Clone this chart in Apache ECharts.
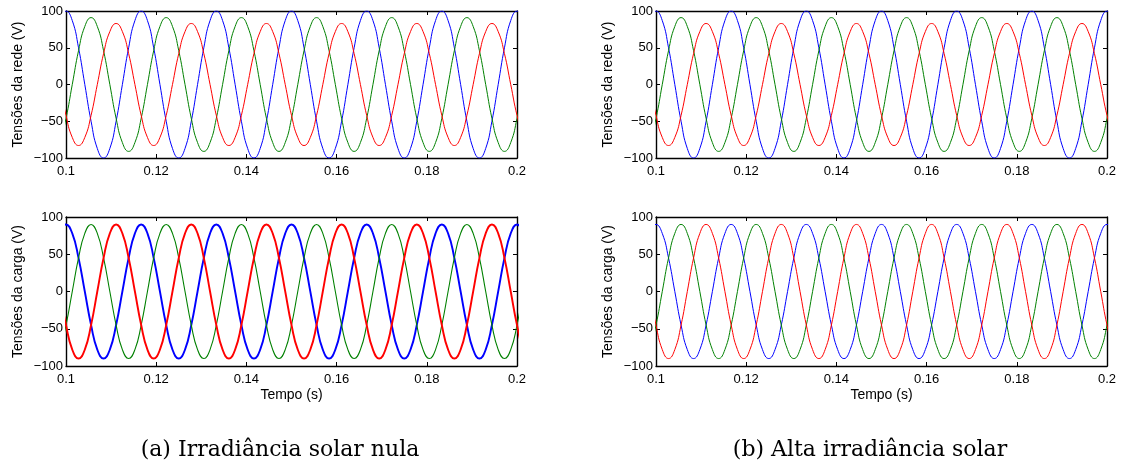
<!DOCTYPE html>
<html>
<head>
<meta charset="utf-8">
<script src="https://cdn.jsdelivr.net/npm/echarts@6/dist/echarts.min.js"></script>
<style>
  html, body { margin: 0; padding: 0; background: #fff; }
  #chart { width: 1123px; height: 468px; }
</style>
</head>
<body>
<div id="chart"></div>
<script>
// Sampling instants (s): every 1/12 of a 60 Hz cycle, slightly past both ends of the axis
const tempo = [
  0.09722, 0.09861,
  0.10000, 0.10139, 0.10278, 0.10417, 0.10556, 0.10694, 0.10833, 0.10972, 0.11111, 0.11250, 0.11389, 0.11528,
  0.11667, 0.11806, 0.11944, 0.12083, 0.12222, 0.12361, 0.12500, 0.12639, 0.12778, 0.12917, 0.13056, 0.13194,
  0.13333, 0.13472, 0.13611, 0.13750, 0.13889, 0.14028, 0.14167, 0.14306, 0.14444, 0.14583, 0.14722, 0.14861,
  0.15000, 0.15139, 0.15278, 0.15417, 0.15556, 0.15694, 0.15833, 0.15972, 0.16111, 0.16250, 0.16389, 0.16528,
  0.16667, 0.16806, 0.16944, 0.17083, 0.17222, 0.17361, 0.17500, 0.17639, 0.17778, 0.17917, 0.18056, 0.18194,
  0.18333, 0.18472, 0.18611, 0.18750, 0.18889, 0.19028, 0.19167, 0.19306, 0.19444, 0.19583, 0.19722, 0.19861,
  0.20000, 0.20139, 0.20278
];

// Tensões da rede (V), phases a (blue), b (green), c (red)
const redeFaseA = [
  50, 87, 100, 87, 50, 0, -50, -87, -100, -87, -50, 0,
  50, 87, 100, 87, 50, 0, -50, -87, -100, -87, -50, 0,
  50, 87, 100, 87, 50, 0, -50, -87, -100, -87, -50, 0,
  50, 87, 100, 87, 50, 0, -50, -87, -100, -87, -50, 0,
  50, 87, 100, 87, 50, 0, -50, -87, -100, -87, -50, 0,
  50, 87, 100, 87, 50, 0, -50, -87, -100, -87, -50, 0,
  50, 87, 100, 87, 50
];
const redeFaseB = [
  -91, -79, -46, 0, 46, 79, 91, 79, 46, 0, -46, -79,
  -91, -79, -46, 0, 46, 79, 91, 79, 46, 0, -46, -79,
  -91, -79, -46, 0, 46, 79, 91, 79, 46, 0, -46, -79,
  -91, -79, -46, 0, 46, 79, 91, 79, 46, 0, -46, -79,
  -91, -79, -46, 0, 46, 79, 91, 79, 46, 0, -46, -79,
  -91, -79, -46, 0, 46, 79, 91, 79, 46, 0, -46, -79,
  -91, -79, -46, 0, 46
];
const redeFaseC = [
  42, 0, -42, -72, -83, -72, -42, 0, 42, 72, 83, 72,
  42, 0, -42, -72, -83, -72, -42, 0, 42, 72, 83, 72,
  42, 0, -42, -72, -83, -72, -42, 0, 42, 72, 83, 72,
  42, 0, -42, -72, -83, -72, -42, 0, 42, 72, 83, 72,
  42, 0, -42, -72, -83, -72, -42, 0, 42, 72, 83, 72,
  42, 0, -42, -72, -83, -72, -42, 0, 42, 72, 83, 72,
  42, 0, -42, -72, -83
];

// Tensões da carga (V), phases a (blue), b (green), c (red)
const cargaFaseA = [
  45, 78, 90, 78, 45, 0, -45, -78, -90, -78, -45, 0,
  45, 78, 90, 78, 45, 0, -45, -78, -90, -78, -45, 0,
  45, 78, 90, 78, 45, 0, -45, -78, -90, -78, -45, 0,
  45, 78, 90, 78, 45, 0, -45, -78, -90, -78, -45, 0,
  45, 78, 90, 78, 45, 0, -45, -78, -90, -78, -45, 0,
  45, 78, 90, 78, 45, 0, -45, -78, -90, -78, -45, 0,
  45, 78, 90, 78, 45
];
const cargaFaseB = [
  -90, -78, -45, 0, 45, 78, 90, 78, 45, 0, -45, -78,
  -90, -78, -45, 0, 45, 78, 90, 78, 45, 0, -45, -78,
  -90, -78, -45, 0, 45, 78, 90, 78, 45, 0, -45, -78,
  -90, -78, -45, 0, 45, 78, 90, 78, 45, 0, -45, -78,
  -90, -78, -45, 0, 45, 78, 90, 78, 45, 0, -45, -78,
  -90, -78, -45, 0, 45, 78, 90, 78, 45, 0, -45, -78,
  -90, -78, -45, 0, 45
];
const cargaFaseC = [
  45, 0, -45, -78, -90, -78, -45, 0, 45, 78, 90, 78,
  45, 0, -45, -78, -90, -78, -45, 0, 45, 78, 90, 78,
  45, 0, -45, -78, -90, -78, -45, 0, 45, 78, 90, 78,
  45, 0, -45, -78, -90, -78, -45, 0, 45, 78, 90, 78,
  45, 0, -45, -78, -90, -78, -45, 0, 45, 78, 90, 78,
  45, 0, -45, -78, -90, -78, -45, 0, 45, 78, 90, 78,
  45, 0, -45, -78, -90
];

const rotuloRede = 'Tensões da rede (V)';
const rotuloCarga = 'Tensões da carga (V)';
const rotuloTempo = 'Tempo (s)';
const legendas = ['(a) Irradiância solar nula', '(b) Alta irradiância solar'];

const corFase = ['#0000ff', '#008000', '#ff0000'];
const fonteEixo = '"Liberation Sans", Arial, Helvetica, sans-serif';
const fonteLegenda = '22px "DejaVu Serif", serif';

// Four panels: (a) left column, (b) right column; grid on top, load below
const paineis = [
  { box: { left: 66, top: 11, width: 451, height: 147 }, nome: rotuloRede, fases: [redeFaseA, redeFaseB, redeFaseC], tempo: false, larg: [1, 1, 1] },
  { box: { left: 66, top: 217, width: 451, height: 149 }, nome: rotuloCarga, fases: [cargaFaseA, cargaFaseB, cargaFaseC], tempo: true, larg: [1.9, 1.1, 1.9] },
  { box: { left: 656, top: 11, width: 451, height: 147 }, nome: rotuloRede, fases: [redeFaseA, redeFaseB, redeFaseC], tempo: false, larg: [1, 1, 1] },
  { box: { left: 656, top: 217, width: 451, height: 149 }, nome: rotuloCarga, fases: [cargaFaseA, cargaFaseB, cargaFaseC], tempo: true, larg: [1, 1, 1] }
];

const grid = [], xAxis = [], yAxis = [], series = [];
const linhaEixo = { onZero: false, lineStyle: { color: '#000', width: 1.4 } };
const tique = { inside: true, length: 4, lineStyle: { color: '#000', width: 1 } };
const estiloNome = { color: '#000', fontSize: 14, fontFamily: fonteEixo };

paineis.forEach((p, g) => {
  grid.push(Object.assign({ containLabel: false }, p.box));
  ['bottom', 'top'].forEach(pos => {
    xAxis.push({
      type: 'value', gridIndex: g, position: pos,
      min: 0.1, max: 0.2, interval: 0.02,
      axisLine: linhaEixo, axisTick: tique, splitLine: { show: false },
      axisLabel: {
        show: pos === 'bottom', color: '#000', fontSize: 13, fontFamily: fonteEixo, margin: 7,
        formatter: v => String(+v.toFixed(2))
      },
      name: (pos === 'bottom' && p.tempo) ? rotuloTempo : '',
      nameLocation: 'middle', nameGap: 22,
      nameTextStyle: estiloNome
    });
  });
  ['left', 'right'].forEach(pos => {
    yAxis.push({
      type: 'value', gridIndex: g, position: pos,
      min: -100, max: 100, interval: 50,
      axisLine: linhaEixo, axisTick: tique, splitLine: { show: false },
      axisLabel: {
        show: pos === 'left', color: '#000', fontSize: 13, fontFamily: fonteEixo, margin: 3,
        formatter: v => (v < 0 ? '\u2212' + Math.abs(v) : String(v))
      },
      name: pos === 'left' ? p.nome : '',
      nameLocation: 'middle', nameGap: 41,
      nameTextStyle: estiloNome
    });
  });
  p.fases.forEach((valores, f) => {
    series.push({
      type: 'line',
      xAxisIndex: g * 2, yAxisIndex: g * 2,
      data: tempo.map((t, i) => [t, valores[i]]),
      smooth: true, symbol: 'none', clip: true,
      lineStyle: { color: corFase[f], width: p.larg[f] },
      silent: true
    });
  });
});

const chart = echarts.init(document.getElementById('chart'), null, { renderer: 'canvas' });
chart.setOption({
  animation: false,
  backgroundColor: '#fff',
  grid, xAxis, yAxis, series,
  graphic: [
    { type: 'text', x: 280, y: 450, style: { text: legendas[0], fill: '#000', font: fonteLegenda, textAlign: 'center', textVerticalAlign: 'middle' } },
    { type: 'text', x: 870, y: 450, style: { text: legendas[1], fill: '#000', font: fonteLegenda, textAlign: 'center', textVerticalAlign: 'middle' } }
  ]
});
</script>
</body>
</html>
